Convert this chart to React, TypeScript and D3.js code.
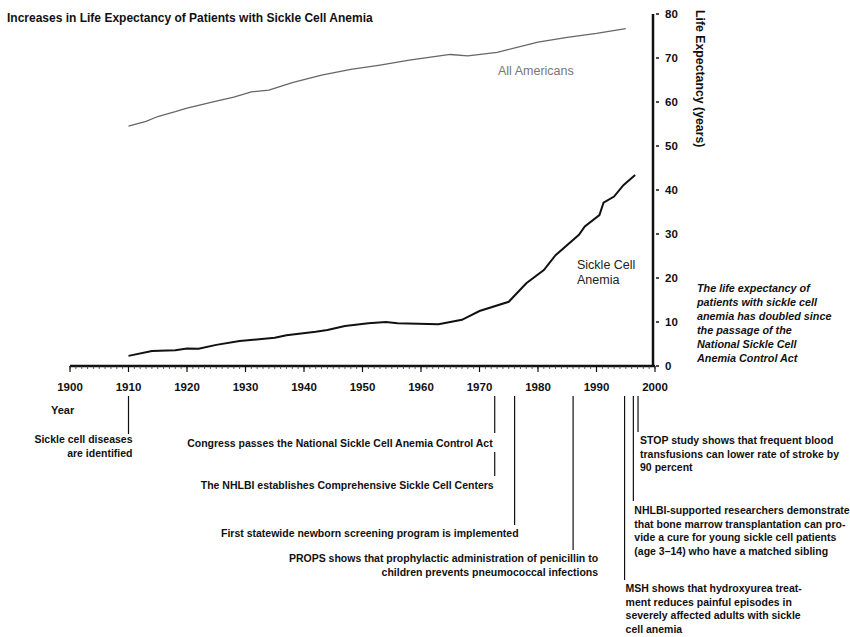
import React from 'react'
import * as d3 from 'd3'

const americansYears = [1910, 1913, 1915, 1918, 1920, 1925, 1928, 1931, 1934, 1938, 1943, 1948, 1953, 1958, 1965, 1968, 1973, 1980, 1985, 1990, 1995]
const americansValues = [54.5, 55.6, 56.7, 57.8, 58.6, 60.2, 61.1, 62.3, 62.7, 64.4, 66.1, 67.4, 68.4, 69.5, 70.8, 70.5, 71.3, 73.6, 74.7, 75.6, 76.7]

const sickleYears = [1910, 1914, 1918, 1920, 1922, 1925, 1929, 1935, 1937, 1942, 1944, 1947, 1951, 1954, 1956, 1963, 1967, 1970, 1975, 1978, 1981, 1983, 1987, 1988, 1990.5, 1991.2, 1993, 1994.6, 1996.6]
const sickleValues = [2.3, 3.4, 3.6, 4.0, 3.9, 4.8, 5.7, 6.4, 7.0, 7.8, 8.2, 9.1, 9.7, 10.0, 9.7, 9.5, 10.5, 12.5, 14.6, 18.8, 21.8, 25.2, 29.8, 31.7, 34.3, 37.1, 38.5, 41.1, 43.4]

const xTicks = [1900, 1910, 1920, 1930, 1940, 1950, 1960, 1970, 1980, 1990, 2000]
const yTicks = [0, 10, 20, 30, 40, 50, 60, 70, 80]

const title = 'Increases in Life Expectancy of Patients with Sickle Cell Anemia'
const yLabel = 'Life Expectancy (years)'
const noteLines = [
  'The life expectancy of',
  'patients with sickle cell',
  'anemia has doubled since',
  'the passage of the',
  'National Sickle Cell',
  'Anemia Control Act',
]

// events on the timeline
const eventYears = [1910, 1972.6, 1972.6, 1976, 1986, 1994.8, 1996.3, 1997.1]
const eventTexts = [
  ['Sickle cell diseases', 'are identified'],
  ['Congress passes the National Sickle Cell Anemia Control Act'],
  ['The NHLBI establishes Comprehensive Sickle Cell Centers'],
  ['First statewide newborn screening program is implemented'],
  ['PROPS shows that prophylactic administration of penicillin to', 'children prevents pneumococcal infections'],
  ['MSH shows that hydroxyurea treat-', 'ment reduces painful episodes in', 'severely affected adults with sickle', 'cell anemia'],
  ['NHLBI-supported researchers demonstrate', 'that bone marrow transplantation can pro-', 'vide a cure for young sickle cell patients', '(age 3\u201314) who have a matched sibling'],
  ['STOP study shows that frequent blood', 'transfusions can lower rate of stroke by', '90 percent'],
]
// layout for each event: line start/end, first text line, anchor, text offset from line
const eventLayout = [
  { y0: 396, y1: 434, ty: 443, anchor: 'end', dx: 4 },
  { y0: 396, y1: 433, ty: 447, anchor: 'end', dx: -2 },
  { y0: 452, y1: 476, ty: 489, anchor: 'end', dx: -1 },
  { y0: 396, y1: 525, ty: 537, anchor: 'end', dx: 4 },
  { y0: 396, y1: 550, ty: 562, anchor: 'end', dx: 25 },
  { y0: 396, y1: 580, ty: 592, anchor: 'start', dx: 1 },
  { y0: 396, y1: 501, ty: 514, anchor: 'start', dx: 1 },
  { y0: 396, y1: 432, ty: 444, anchor: 'start', dx: 2 },
]

const font = '"Liberation Sans", Arial, sans-serif'

export default function App() {
  const x = d3.scaleLinear().domain([1900, 2000]).range([70, 655])
  const y = d3.scaleLinear().domain([0, 80]).range([366, 14])

  const line = d3
    .line<[number, number]>()
    .x((d) => x(d[0]))
    .y((d) => y(d[1]))

  const americans = americansYears.map((yr, i) => [yr, americansValues[i]] as [number, number])
  const sickle = sickleYears.map((yr, i) => [yr, sickleValues[i]] as [number, number])
  const minorTicks = d3.range(1900, 2001, 1)
  const axisX = x(2000) - 2

  return (
    <svg width={850} height={637} style={{ position: 'absolute', left: 0, top: 0, background: '#fff' }} fontFamily={font}>
      <text x={7} y={22} fontSize={12} fontWeight="bold" fill="#111">
        {title}
      </text>

      {/* series */}
      <path d={line(americans) || ''} fill="none" stroke="#666" strokeWidth={1.3} />
      <path d={line(sickle) || ''} fill="none" stroke="#111" strokeWidth={2} />
      <text x={498} y={75} fontSize={12.5} fill="#777">All Americans</text>
      <text x={577} y={269} fontSize={12.5} fill="#222">Sickle Cell</text>
      <text x={577} y={284} fontSize={12.5} fill="#222">Anemia</text>

      {/* x axis */}
      <line x1={x(1900)} x2={x(2000)} y1={y(0)} y2={y(0)} stroke="#111" strokeWidth={2.5} />
      {minorTicks.map((t) => (
        <line key={'m' + t} x1={x(t)} x2={x(t)} y1={y(0)} y2={y(0) + 3} stroke="#333" strokeWidth={0.8} />
      ))}
      {xTicks.map((t) => (
        <g key={t}>
          <line x1={x(t)} x2={x(t)} y1={y(0)} y2={y(0) + 6} stroke="#111" strokeWidth={1.2} />
          <text x={x(t)} y={391} fontSize={11.5} fontWeight="bold" textAnchor="middle" fill="#111">
            {t}
          </text>
        </g>
      ))}
      <text x={51} y={414} fontSize={11} fontWeight="bold" fill="#111">Year</text>

      {/* y axis */}
      <line x1={axisX} x2={axisX} y1={y(80)} y2={y(0)} stroke="#111" strokeWidth={2.5} />
      {yTicks.map((t) => (
        <g key={t}>
          <line x1={axisX + 3} x2={axisX + 6} y1={y(t)} y2={y(t)} stroke="#111" strokeWidth={1.5} />
          <text x={665} y={y(t) + 4} fontSize={11.5} fontWeight="bold" fill="#111">
            {t}
          </text>
        </g>
      ))}
      <text
        transform={`translate(696, 10) rotate(90)`}
        fontSize={12.3}
        fontWeight="bold"
        fill="#111"
      >
        {yLabel}
      </text>

      {noteLines.map((l, i) => (
        <text key={l} x={697} y={292 + i * 14} fontSize={10.8} fontWeight="bold" fontStyle="italic" fill="#111">
          {l}
        </text>
      ))}

      {/* timeline events */}
      {eventYears.map((yr, i) => {
        const ly = eventLayout[i]
        const ex = x(yr)
        return (
          <g key={i}>
            <line x1={ex} x2={ex} y1={ly.y0} y2={ly.y1} stroke="#111" strokeWidth={1.2} />
            {eventTexts[i].map((t, j) => (
              <text
                key={j}
                x={ex + ly.dx}
                y={ly.ty + j * 13.5}
                fontSize={10.5}
                fontWeight="bold"
                textAnchor={ly.anchor}
                fill="#111"
              >
                {t}
              </text>
            ))}
          </g>
        )
      })}
    </svg>
  )
}
